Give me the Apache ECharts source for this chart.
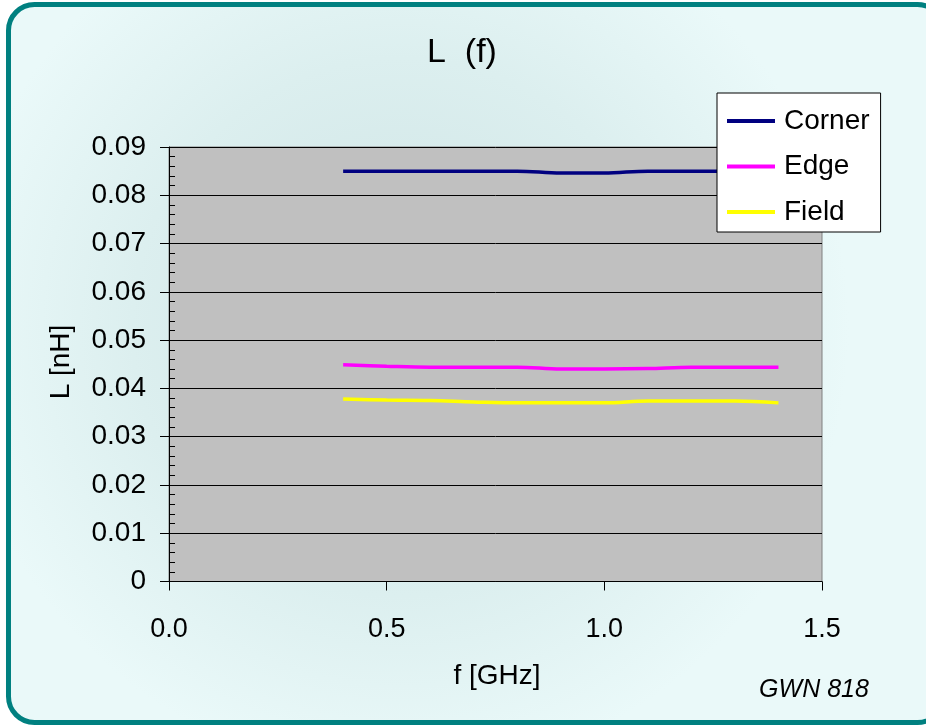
<!DOCTYPE html>
<html>
<head>
<meta charset="utf-8">
<script src="https://cdn.jsdelivr.net/npm/echarts@6/dist/echarts.min.js"></script>
<style>
html,body{margin:0;padding:0;background:#ffffff;}
#chart{width:926px;height:725px;}
</style>
</head>
<body>
<div id="chart"></div>
<script>
// ---- data ----
const freqGHz = [0.4, 0.5, 0.6, 0.7, 0.8, 0.9, 1.0, 1.1, 1.2, 1.3, 1.4];
const corner  = [0.0850, 0.0850, 0.0850, 0.0850, 0.0850, 0.0846, 0.0846, 0.0850, 0.0850, 0.0850, 0.0850];
const edge    = [0.0449, 0.0446, 0.0444, 0.0444, 0.0444, 0.0440, 0.0440, 0.0441, 0.0444, 0.0444, 0.0444];
const field   = [0.0378, 0.0376, 0.0375, 0.0372, 0.0370, 0.0370, 0.0370, 0.0374, 0.0374, 0.0374, 0.0370];
const seriesNames = ['Corner', 'Edge', 'Field'];
const seriesColors = ['#000080', '#FF00FF', '#FFFF00'];
const xTicks = [0, 0.5, 1.0, 1.5];
const yTicks = [0, 0.01, 0.02, 0.03, 0.04, 0.05, 0.06, 0.07, 0.08, 0.09];

const FONT = "'Liberation Sans', Arial, sans-serif";
const chart = echarts.init(document.getElementById('chart'), null, {renderer: 'canvas'});

function pairs(ys) { return freqGHz.map((x, i) => [x, ys[i]]); }
const allSeries = [corner, edge, field];

const option = {
  animation: false,
  graphic: [
    {
      type: 'rect', z: -10, silent: true,
      shape: {x: 8.5, y: 4.5, width: 935, height: 718, r: 26},
      style: {
        fill: new echarts.graphic.RadialGradient(0.42, 0.45, 0.62, [
          {offset: 0, color: '#CDE3E4'},
          {offset: 0.6, color: '#DCEFEF'},
          {offset: 1, color: '#EAF9F9'}
        ]),
        stroke: '#008080', lineWidth: 5
      }
    },
    {
      type: 'text', z: 5, x: 462, y: 53,
      style: {text: 'L  (f)', font: '34px ' + FONT, fill: '#000', textAlign: 'center', textVerticalAlign: 'middle'}
    },
    {
      type: 'text', z: 5, x: 61, y: 362, rotation: Math.PI / 2,
      style: {text: 'L [nH]', font: '28px ' + FONT, fill: '#000', textAlign: 'center', textVerticalAlign: 'middle'}
    },
    {
      type: 'text', z: 5, x: 497, y: 676,
      style: {text: 'f [GHz]', font: '28px ' + FONT, fill: '#000', textAlign: 'center', textVerticalAlign: 'middle'}
    },
    {
      type: 'text', z: 5, x: 814, y: 690,
      style: {text: 'GWN 818', font: 'italic 25px ' + FONT, fill: '#000', textAlign: 'center', textVerticalAlign: 'middle'}
    }
  ],
  legend: {
    orient: 'vertical',
    left: 717, top: 93,
    padding: [12, 11, 4, 10],
    itemGap: 13.5,
    itemWidth: 48,
    itemHeight: 4,
    icon: 'rect',
    backgroundColor: '#ffffff',
    borderColor: '#000000',
    borderWidth: 1,
    borderRadius: 0,
    textStyle: {fontFamily: FONT, fontSize: 28, color: '#000', lineHeight: 32, padding: [0, 0, 0, 4]},
    data: seriesNames
  },
  grid: {
    left: 169, top: 147, right: 104, bottom: 143.5,
    show: true, backgroundColor: '#C0C0C0', borderColor: '#808080', borderWidth: 1,
    containLabel: false
  },
  xAxis: {
    type: 'value', min: xTicks[0], max: xTicks[xTicks.length - 1], interval: 0.5,
    axisLine: {show: true, onZero: false, lineStyle: {color: '#000', width: 1}},
    axisTick: {show: true, inside: false, length: 9, lineStyle: {color: '#000'}},
    axisLabel: {margin: 35, fontFamily: FONT, fontSize: 27, color: '#000', formatter: v => v.toFixed(1)},
    splitLine: {show: false}
  },
  yAxis: [
    {
      type: 'value', min: yTicks[0], max: yTicks[yTicks.length - 1], interval: 0.01,
      axisLine: {show: true, lineStyle: {color: '#000', width: 1}},
      axisTick: {show: true, inside: false, length: 9, lineStyle: {color: '#000'}},
      axisLabel: {margin: 23, fontFamily: FONT, fontSize: 28, color: '#000',
        formatter: v => (Math.abs(v) < 1e-9 ? '0' : v.toFixed(2))},
      splitLine: {show: true, lineStyle: {color: '#000', width: 1}}
    },
    {
      type: 'value', position: 'left', offset: 0,
      min: yTicks[0], max: yTicks[yTicks.length - 1], interval: 0.01,
      axisLine: {show: false},
      axisTick: {show: false, inside: true},
      axisLabel: {show: false},
      splitLine: {show: false},
      minorTick: {show: true, splitNumber: 5, length: 6, lineStyle: {color: '#000', width: 1}}
    }
  ],
  series: seriesNames.map((name, i) => ({
    name: name,
    type: 'line',
    data: pairs(allSeries[i]),
    smooth: 0.35,
    showSymbol: false,
    symbol: 'none',
    color: seriesColors[i],
    lineStyle: {color: seriesColors[i], width: 3.5},
    z: 3
  }))
};
chart.setOption(option);
</script>
</body>
</html>
